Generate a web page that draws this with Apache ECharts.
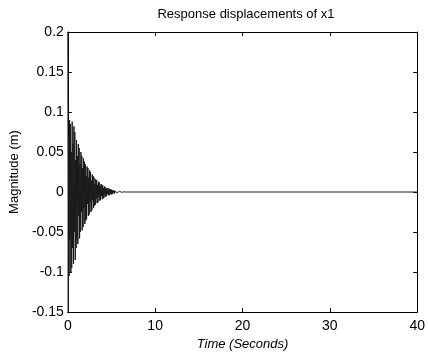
<!DOCTYPE html>
<html>
<head>
<meta charset="utf-8">
<script src="https://cdn.jsdelivr.net/npm/echarts@6/dist/echarts.min.js"></script>
<style>
  html, body { margin: 0; padding: 0; background: #fff; }
  #chart { width: 428px; height: 357px; }
</style>
</head>
<body>
<div id="chart"></div>
<script>
// sample clock of the recorded response (seconds between samples)
const sampleStep = 0.05;

// displacement of x1 (m), one row per second, from t = 0
const displacement = [
  0.20, -0.15, 0.07, -0.105, 0.09, -0.06, 0.085, -0.10, 0.05, -0.095, 0.088, -0.07, 0.06, -0.09, 0.082, -0.05, 0.075, -0.085, 0.04, -0.07,
  0.065, -0.06, 0.045, -0.065, 0.06, -0.03, 0.055, -0.058, 0.035, -0.05, 0.05, -0.025, 0.045, -0.048, 0.03, -0.044, 0.042, -0.02, 0.038, -0.04,
  0.035, -0.036, 0.02, -0.034, 0.032, -0.015, 0.03, -0.03, 0.018, -0.028, 0.027, -0.012, 0.025, -0.025, 0.014, -0.023, 0.022, -0.01, 0.02, -0.02,
  0.018, -0.017, 0.01, -0.016, 0.016, -0.008, 0.015, -0.014, 0.009, -0.013, 0.013, -0.006, 0.012, -0.011, 0.007, -0.01, 0.01, -0.005, 0.009, -0.009,
  0.008, -0.008, 0.005, -0.007, 0.007, -0.003, 0.006, -0.006, 0.004, -0.005, 0.005, -0.002, 0.005, -0.004, 0.003, -0.004, 0.004, -0.002, 0.003, -0.003,
  0.003, -0.003, 0.002, -0.002, 0.002, -0.001, 0.002, -0.002, 0.001, -0.001, 0.001, -0.001, 0.001, -0.001, 0.001, -0.001, 0.001, 0, 0.001, 0,
  0.0005, -0.0005, 0.0004, -0.0004, 0.0003, -0.0003, 0.0002, -0.0002, 0.0002, -0.0001, 0.0001, -0.0001, 0.0001, 0, 0, 0, 0, 0, 0, 0,
  0
];

// settled tail: [time, displacement]
const tailTimes = [10, 20, 30, 40];
const tailValues = [0, 0, 0, 0];

const xTicks = [0, 10, 20, 30, 40];
const yTicks = [-0.15, -0.1, -0.05, 0, 0.05, 0.1, 0.15, 0.2];

const points = displacement.map((v, i) => [+(i * sampleStep).toFixed(2), v]);
tailTimes.forEach((t, i) => points.push([t, tailValues[i]]));

const font = 'Liberation Sans, Arial, sans-serif';
const axisLine = { show: true, onZero: false, lineStyle: { color: '#000', width: 1 } };
const tickIn = { show: true, inside: true, length: 4, lineStyle: { color: '#000' } };

const chart = echarts.init(document.getElementById('chart'));
chart.setOption({
  animation: false,
  backgroundColor: '#fff',
  title: {
    text: 'Response displacements of x1',
    left: 241, top: 3, textAlign: 'center',
    textStyle: { fontFamily: font, fontSize: 13, fontWeight: 'normal', color: '#000' }
  },
  grid: { left: 65, right: 10, top: 32, bottom: 45 },
  xAxis: [
    {
      type: 'value', min: 0, max: 40, interval: 10,
      axisLine, axisTick: tickIn, splitLine: { show: false },
      axisLabel: { color: '#000', fontFamily: font, fontSize: 14, margin: 7,
        formatter: v => xTicks.includes(v) ? String(v) : '' },
      name: 'Time (Seconds)', nameLocation: 'middle', nameGap: 26,
      nameTextStyle: { color: '#000', fontFamily: font, fontSize: 13, fontStyle: 'italic' }
    },
    {
      type: 'value', min: 0, max: 40, interval: 10, position: 'top',
      axisLine, axisTick: tickIn, axisLabel: { show: false }, splitLine: { show: false }
    }
  ],
  yAxis: [
    {
      type: 'value', min: -0.15, max: 0.2, interval: 0.05,
      axisLine, axisTick: tickIn, splitLine: { show: false },
      axisLabel: { color: '#000', fontFamily: font, fontSize: 14, margin: 4,
        formatter: v => {
          const r = Math.round(v * 100) / 100;
          return yTicks.some(t => Math.abs(t - r) < 1e-9) ? String(r) : '';
        } },
      name: 'Magnitude (m)', nameLocation: 'middle', nameGap: 46,
      nameTextStyle: { color: '#000', fontFamily: font, fontSize: 13 }
    },
    {
      type: 'value', min: -0.15, max: 0.2, interval: 0.05, position: 'right',
      axisLine, axisTick: tickIn, axisLabel: { show: false }, splitLine: { show: false }
    }
  ],
  series: [{
    type: 'line',
    data: points,
    showSymbol: false,
    lineStyle: { color: '#1a1a1a', width: 1 }
  }]
});
</script>
</body>
</html>
